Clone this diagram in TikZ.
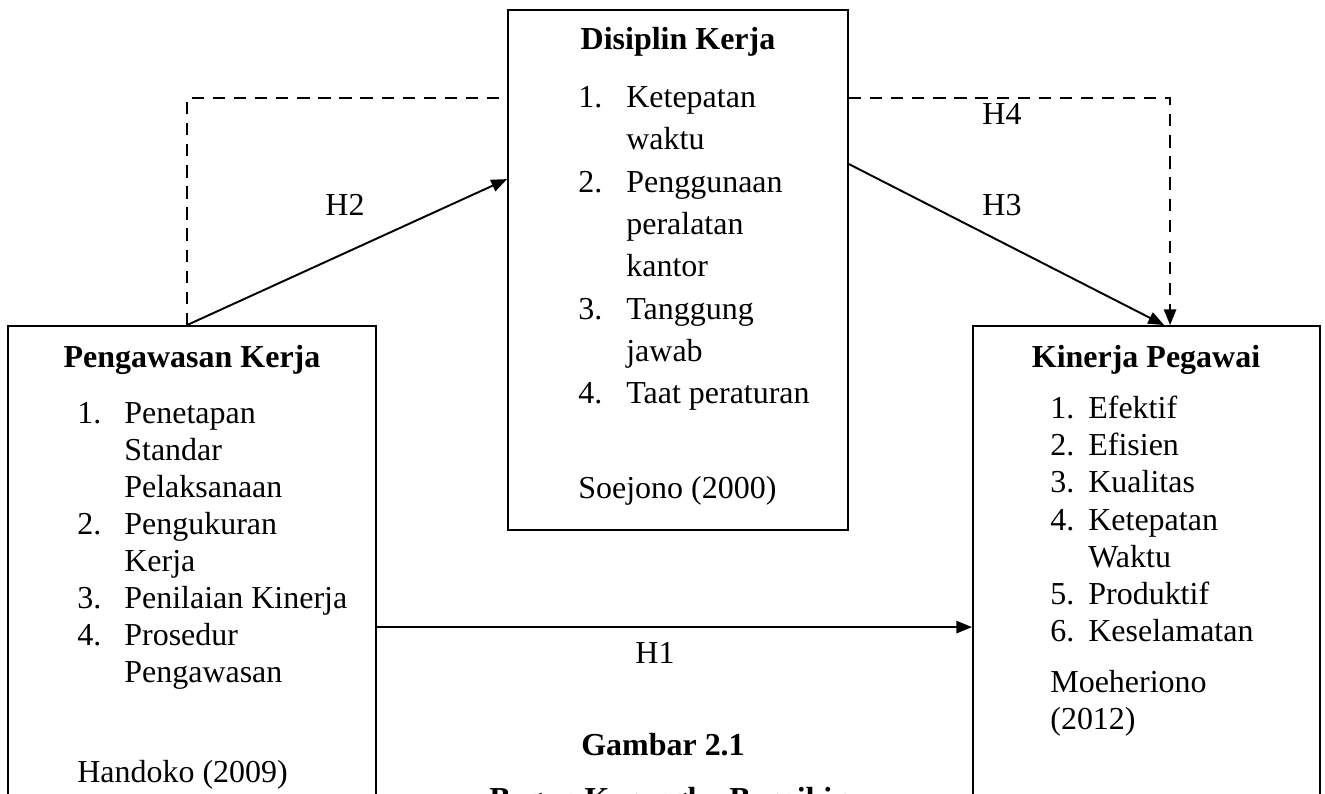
\documentclass[tikz,border=0pt]{standalone}
\usepackage{fontspec}
\setmainfont{Liberation Serif}
\usetikzlibrary{arrows.meta,positioning,calc}

\begin{document}
\begin{tikzpicture}[
    x = 0.02cm, y = -0.02cm, % one unit per pixel, y downwards
    > = {Triangle[length=9pt,width=7pt]}, % arrow head style
    every node/.style = {font=\fontsize{18.2}{21}\selectfont},
    kotak/.style = {draw, line width=1.1pt, rectangle, inner sep=0pt},
    teks/.style = {anchor=base west, inner sep=0pt},
    tengah/.style = {anchor=base, inner sep=0pt},
    judul/.style = {anchor=base, inner sep=0pt, font=\fontsize{18.2}{21}\selectfont\bfseries},
    garis/.style = {line width=1.1pt},
    putus/.style = {line width=1.1pt, dash pattern=on 7pt off 5pt}
    ]

    \useasboundingbox (0,0) rectangle (1325,794);
    \fill[white] (0,0) rectangle (1325,794);
    \clip (0,0) rectangle (1325,794);

    % the three boxes
    \node[kotak, minimum width=7.36cm, minimum height=11.48cm] (peng) at (192,613) {};
    \node[kotak, minimum width=6.8cm, minimum height=10.4cm] (disiplin) at (678,270) {};
    \node[kotak, minimum width=6.94cm, minimum height=11.48cm] (kinerja) at (1146.5,613) {};

    % Pengawasan Kerja
    \node[judul] (peng-judul) at (192,367) {Pengawasan Kerja};
    \foreach \y/\n in {423/1, 534/2, 608/3, 645/4}
        \node[teks] (peng-n\n) at (77,\y) {\n.};
    \foreach \y/\t [count=\i] in {423/Penetapan, 460/Standar, 497/Pelaksanaan,
            534/Pengukuran, 571/Kerja, 608/Penilaian Kinerja, 645/Prosedur, 682/Pengawasan}
        \node[teks] (peng-t\i) at (124,\y) {\t};
    \node[teks] (peng-sumber) at (77,782) {Handoko (2009)};

    % Disiplin Kerja
    \node[judul] (dis-judul) at (678,50) {Disiplin Kerja};
    \foreach \y/\n in {108/1, 192/2, 319/3, 403/4}
        \node[teks] (dis-n\n) at (578,\y) {\n.};
    \foreach \y/\t [count=\i] in {108/Ketepatan, 150/waktu, 192/Penggunaan, 234/peralatan,
            276/kantor, 319/Tanggung, 361/jawab, 403/Taat peraturan}
        \node[teks] (dis-t\i) at (626,\y) {\t};
    \node[teks] (dis-sumber) at (578,498) {Soejono (2000)};

    % Kinerja Pegawai
    \node[judul] (kin-judul) at (1146,367) {Kinerja Pegawai};
    \foreach \y/\n in {418/1, 455/2, 492/3, 530/4, 604/5, 641/6}
        \node[teks] (kin-n\n) at (1050,\y) {\n.};
    \foreach \y/\t [count=\i] in {418/Efektif, 455/Efisien, 492/Kualitas, 530/Ketepatan,
            567/Waktu, 604/Produktif, 641/Keselamatan}
        \node[teks] (kin-t\i) at (1088,\y) {\t};
    \node[teks] (kin-sumber1) at (1050,692) {Moeheriono};
    \node[teks] (kin-sumber2) at (1050,729) {(2012)};

    % connectors
    \coordinate (sudut) at (187,98);
    \draw[putus] (peng.north -| sudut) |- (disiplin.west |- sudut);
    \draw[garis,->] (peng.north -| sudut) -- ($(disiplin.north west)+(0,170)$);
    \draw[garis,->] ($(disiplin.north east)+(0,155)$) -- ($(kinerja.north west)+(192,0)$);
    \draw[putus,->] (disiplin.east |- sudut) -| ($(kinerja.north west)+(198,0)$);
    \draw[garis,->] ($(peng.north east)+(0,302)$) -- ($(kinerja.north west)+(0,302)$);

    % labels
    \node[tengah] (h2) at (345,215) {H2};
    \node[tengah] (h4) at (1002,125) {H4};
    \node[tengah] (h3) at (1002,215) {H3};
    \node[tengah] (h1) at (655,663) {H1};

    % caption
    \node[judul] (gambar) at (663,755) {Gambar 2.1};
    \node[judul] (bagan) at (668,809) {Bagan Kerangka Berpikir};

\end{tikzpicture}
\end{document}
